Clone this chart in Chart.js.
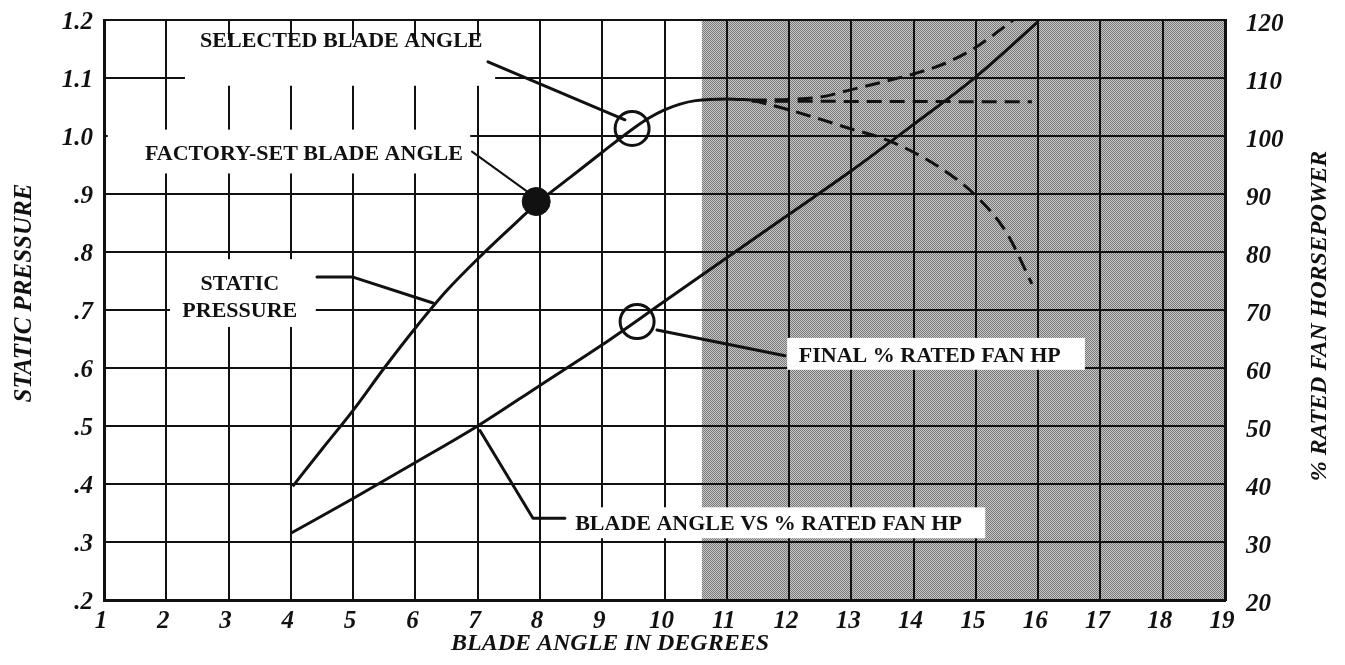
<!DOCTYPE html>
<html lang="en">
<head>
    <meta charset="UTF-8">
    <title>Blade Angle vs Static Pressure and Fan HP</title>
    <script src="https://cdn.jsdelivr.net/npm/chart.js"></script>
    <style>
        body {
            margin: 0;
            background-color: white;
            overflow: hidden;
        }
    </style>
</head>
<body>
<canvas id="fanChart" width="1345" height="665"></canvas>

<script>
    // axis ticks
    const angleTicks = [1, 2, 3, 4, 5, 6, 7, 8, 9, 10, 11, 12, 13, 14, 15, 16, 17, 18, 19];
    const pressureTicks = [0.2, 0.3, 0.4, 0.5, 0.6, 0.7, 0.8, 0.9, 1.0, 1.1, 1.2];
    const pressureTickLabels = ['.2', '.3', '.4', '.5', '.6', '.7', '.8', '.9', '1.0', '1.1', '1.2'];
    const hpTicks = [20, 30, 40, 50, 60, 70, 80, 90, 100, 110, 120];

    // static pressure curve (solid part)
    const spAngle = [4.03, 4.5, 5, 5.5, 6, 6.5, 7, 7.5, 8, 8.5, 9, 9.5, 9.75, 10, 10.25, 10.5, 11, 11.4];
    const spValue = [0.396, 0.46, 0.527, 0.6, 0.669, 0.733, 0.788, 0.839, 0.888, 0.93, 0.972, 1.013, 1.031, 1.045, 1.055, 1.061, 1.064, 1.062];

    // dashed continuations
    const spFallAngle = [11.4, 12, 12.5, 13, 13.5, 14, 14.5, 15, 15.5, 15.9];
    const spFallValue = [1.062, 1.045, 1.029, 1.012, 0.996, 0.972, 0.94, 0.897, 0.832, 0.745];
    const spFlatAngle = [11.4, 15.9];
    const spFlatValue = [1.06, 1.059];
    const spRiseAngle = [11.4, 12, 12.5, 13, 13.5, 14, 14.5, 15, 15.6];
    const spRiseValue = [1.062, 1.063, 1.067, 1.08, 1.093, 1.107, 1.125, 1.153, 1.2];

    // blade angle vs % rated fan hp
    const hpAngle = [4, 5, 6, 7, 8, 9, 10, 11, 12, 13, 14, 15, 16];
    const hpValue = [31.5, 37.5, 43.7, 50, 57, 64, 71.5, 79, 86.5, 94, 102, 110.2, 119.7];

    // marked points
    const factoryPoint = [7.94, 0.887];
    const selectedPoint = [9.48, 1.013];
    const finalHpPoint = [9.56, 68];

    const shadeFrom = 10.6;

    const ink = '#111';
    const serif = '"Liberation Serif", "Times New Roman", serif';
    const tickFont = { family: serif, size: 25, weight: 'bold', style: 'italic' };

    function zip(xs, ys) {
        return xs.map((x, i) => ({ x: x, y: ys[i] }));
    }

    // callout labels, anchored in data units (x = degrees, y = static pressure)
    const notes = [
        { lines: ['SELECTED BLADE ANGLE'], x: 4.81, y: 1.164, box: [2.30, 7.28, 1.0866, 1.1656] },
        { lines: ['FACTORY-SET BLADE ANGLE'], x: 4.21, y: 0.969, box: [1.06, 6.88, 0.9354, 1.011] },
        { lines: ['STATIC', 'PRESSURE'], x: 3.18, y: 0.7215, box: [2.06, 4.40, 0.6708, 0.7876] },
        { lines: ['FINAL % RATED FAN HP'], x: 14.26, y: 0.621, box: [11.97, 16.75, 0.5969, 0.6519] },
        { lines: ['BLADE ANGLE VS % RATED FAN HP'], x: 11.67, y: 0.3297, box: [8.40, 15.15, 0.3065, 0.3598] }
    ];
    const leaders = [
        { pts: [[7.166, 1.128], [9.365, 1.028]], w: 3 },
        { pts: [[6.909, 0.973], [7.792, 0.9045]], w: 2 },
        { pts: [[4.42, 0.7567], [4.998, 0.7567], [6.283, 0.712]], w: 3 },
        { pts: [[9.879, 0.6656], [11.934, 0.621]], w: 3 },
        { pts: [[7.037, 0.4921], [7.888, 0.3409], [8.40, 0.3409]], w: 3 }
    ];

    function makeShade(ctx) {
        const c = document.createElement('canvas');
        c.width = 2;
        c.height = 2;
        const p = c.getContext('2d');
        p.fillStyle = '#c8c8c8';
        p.fillRect(0, 0, 2, 2);
        p.fillStyle = '#777777';
        p.fillRect(0, 0, 1, 1);
        p.fillRect(1, 1, 1, 1);
        return ctx.createPattern(c, 'repeat');
    }

    const decorations = {
        id: 'decorations',
        beforeDraw(chart) {
            // shaded region sits under the grid
            const { ctx, chartArea, scales } = chart;
            const x0 = scales.x.getPixelForValue(shadeFrom);
            ctx.save();
            ctx.fillStyle = makeShade(ctx);
            ctx.fillRect(x0, chartArea.top, chartArea.right - x0, chartArea.bottom - chartArea.top);
            ctx.restore();
        },
        beforeDatasetsDraw(chart) {
            const { ctx, scales } = chart;
            const sx = scales.x, sy = scales.y;
            ctx.save();
            notes.forEach(n => {
                const bx0 = sx.getPixelForValue(n.box[0]);
                const bx1 = sx.getPixelForValue(n.box[1]);
                const by0 = sy.getPixelForValue(n.box[3]);
                const by1 = sy.getPixelForValue(n.box[2]);
                ctx.fillStyle = 'white';
                ctx.fillRect(bx0, by0, bx1 - bx0, by1 - by0);
            });
            ctx.fillStyle = ink;
            ctx.font = 'bold 22px ' + serif;
            ctx.textAlign = 'center';
            ctx.textBaseline = 'middle';
            notes.forEach(n => {
                const cx = sx.getPixelForValue(n.x);
                const cy = sy.getPixelForValue(n.y);
                const lh = 27;
                n.lines.forEach((t, i) => {
                    ctx.fillText(t, cx, cy + (i - (n.lines.length - 1) / 2) * lh);
                });
            });
            ctx.strokeStyle = ink;
            ctx.lineCap = 'round';
            ctx.lineJoin = 'round';
            leaders.forEach(l => {
                ctx.lineWidth = l.w;
                ctx.beginPath();
                l.pts.forEach((p, i) => {
                    const px = sx.getPixelForValue(p[0]);
                    const py = sy.getPixelForValue(p[1]);
                    if (i === 0) ctx.moveTo(px, py); else ctx.lineTo(px, py);
                });
                ctx.stroke();
            });
            ctx.restore();
        },
        afterDraw(chart) {
            // axis titles
            const { ctx, chartArea } = chart;
            ctx.save();
            ctx.fillStyle = ink;
            ctx.font = 'italic bold 24px ' + serif;
            ctx.textAlign = 'center';
            ctx.textBaseline = 'middle';
            ctx.fillText('BLADE ANGLE IN DEGREES', chartArea.left + 506, chartArea.bottom + 44);
            ctx.restore();

            ctx.save();
            ctx.fillStyle = ink;
            ctx.font = 'italic bold 25px ' + serif;
            ctx.textAlign = 'center';
            ctx.textBaseline = 'middle';
            ctx.translate(25, chartArea.top + 273);
            ctx.rotate(-Math.PI / 2);
            ctx.fillText('STATIC PRESSURE', 0, 0);
            ctx.restore();

            ctx.save();
            ctx.fillStyle = ink;
            ctx.font = 'italic bold 24px ' + serif;
            ctx.textAlign = 'center';
            ctx.textBaseline = 'middle';
            ctx.translate(chartArea.right + 95, chartArea.top + 296);
            ctx.rotate(-Math.PI / 2);
            ctx.fillText('% RATED FAN HORSEPOWER', 0, 0);
            ctx.restore();
        }
    };

    function noPad(s) {
        s.paddingTop = 0;
        s.paddingBottom = 0;
        s.paddingLeft = 0;
        s.paddingRight = 0;
    }

    const ctx = document.getElementById('fanChart').getContext('2d');

    const solid = { borderColor: ink, borderWidth: 3, pointRadius: 0, fill: false, cubicInterpolationMode: 'monotone' };
    const dashed = Object.assign({}, solid, { borderDash: [15, 8] });

    new Chart(ctx, {
        type: 'line',
        data: {
            datasets: [
                Object.assign({ label: 'Static pressure', data: zip(spAngle, spValue), yAxisID: 'y' }, solid),
                Object.assign({ label: 'SP falling', data: zip(spFallAngle, spFallValue), yAxisID: 'y' }, dashed),
                Object.assign({ label: 'SP flat', data: zip(spFlatAngle, spFlatValue), yAxisID: 'y' }, dashed),
                Object.assign({ label: 'SP rising', data: zip(spRiseAngle, spRiseValue), yAxisID: 'y' }, dashed),
                Object.assign({ label: 'Blade angle vs % rated fan HP', data: zip(hpAngle, hpValue), yAxisID: 'y2' }, solid),
                {
                    label: 'Factory-set', data: [{ x: factoryPoint[0], y: factoryPoint[1] }], yAxisID: 'y',
                    showLine: false, pointRadius: 14, pointBackgroundColor: ink, pointBorderColor: ink, pointBorderWidth: 1
                },
                {
                    label: 'Selected', data: [{ x: selectedPoint[0], y: selectedPoint[1] }], yAxisID: 'y',
                    showLine: false, pointRadius: 17, pointBackgroundColor: 'rgba(0,0,0,0)', pointBorderColor: ink, pointBorderWidth: 3
                },
                {
                    label: 'Final HP', data: [{ x: finalHpPoint[0], y: finalHpPoint[1] }], yAxisID: 'y2',
                    showLine: false, pointRadius: 17, pointBackgroundColor: 'rgba(0,0,0,0)', pointBorderColor: ink, pointBorderWidth: 3
                }
            ]
        },
        options: {
            responsive: false,
            animation: false,
            layout: { padding: { top: 18, left: 0, right: 0, bottom: 0 } },
            plugins: {
                legend: { display: false },
                tooltip: { enabled: false }
            },
            scales: {
                x: {
                    type: 'linear',
                    position: 'bottom',
                    min: 1,
                    max: 19,
                    afterBuildTicks: s => { s.ticks = angleTicks.map(v => ({ value: v })); },
                    afterFit: s => { s.height = 65; noPad(s); },
                    ticks: { color: ink, font: tickFont, padding: 7, labelOffset: -3, maxRotation: 0, autoSkip: false },
                    grid: { color: ink, lineWidth: 2, drawTicks: false },
                    border: { color: ink, width: 3 }
                },
                y: {
                    position: 'left',
                    min: 0.2,
                    max: 1.2,
                    afterBuildTicks: s => { s.ticks = pressureTicks.map(v => ({ value: v })); },
                    afterFit: s => { s.width = 104; noPad(s); },
                    ticks: {
                        color: ink, font: tickFont, padding: 11, labelOffset: 3,
                        callback: (v, i) => pressureTickLabels[i]
                    },
                    grid: { color: ink, lineWidth: 2, drawTicks: false },
                    border: { color: ink, width: 3 }
                },
                y2: {
                    position: 'right',
                    min: 20,
                    max: 120,
                    afterBuildTicks: s => { s.ticks = hpTicks.map(v => ({ value: v })); },
                    afterFit: s => { s.width = 120; noPad(s); },
                    ticks: { color: ink, font: tickFont, padding: 21, labelOffset: 5 },
                    grid: { drawOnChartArea: false, drawTicks: false },
                    border: { color: ink, width: 3 }
                }
            }
        },
        plugins: [decorations]
    });
</script>
</body>
</html>
